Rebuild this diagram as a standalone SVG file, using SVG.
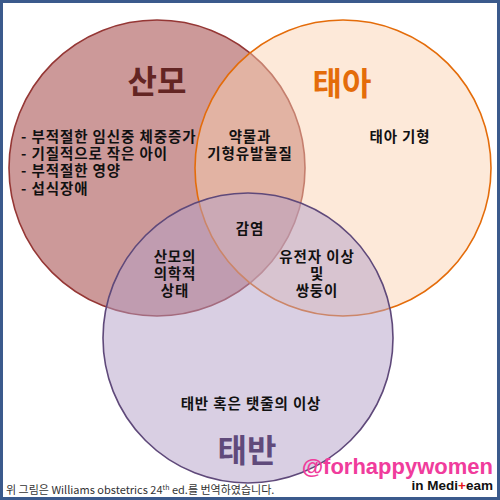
<svg xmlns="http://www.w3.org/2000/svg" width="500" height="500" viewBox="0 0 500 500">
<style>
text{font-family:"Noto Sans CJK KR","Liberation Sans",sans-serif;}
.lbl{font-size:14.5px;font-weight:bold;fill:#111;letter-spacing:0.9px;}
.mid{text-anchor:middle;}
.title{font-size:32px;font-weight:bold;text-anchor:middle;}
.ring{stroke-width:1.6;}
</style>
<rect x="0" y="0" width="500" height="500" fill="#ffffff"/>
<g id="circle-mother">
<circle class="ring" cx="157" cy="168" r="148" fill="#cc9999" stroke="#953735"/>
</g>
<g id="circle-fetus">
<circle class="ring" cx="343" cy="168" r="148" fill="#fbd0ae" fill-opacity="0.47" stroke="#e46c0a"/>
</g>
<g id="circle-placenta">
<circle class="ring" cx="248" cy="338" r="145" fill="#b39fc7" fill-opacity="0.5" stroke="#5f497a"/>
</g>
<g id="title-mother"><text class="title" x="157" y="93" fill="#632523">산모</text></g>
<g id="title-fetus"><text class="title" x="342" y="95" fill="#e46c0a">태아</text></g>
<g id="title-placenta"><text class="title" x="247" y="462" fill="#604a7b">태반</text></g>
<g id="mother-items">
<text class="lbl" x="21" y="142">- 부적절한 임신중 체중증가<tspan x="21" dy="17.2">- 기질적으로 작은 아이</tspan><tspan x="21" dy="17.2">- 부적절한 영양</tspan><tspan x="21" dy="17.2">- 섭식장애</tspan></text>
</g>
<g id="mother-fetus">
<text class="lbl mid" x="250" y="142">약물과<tspan x="250" dy="17">기형유발물질</tspan></text>
</g>
<g id="fetus-items"><text class="lbl mid" x="400" y="142">태아 기형</text></g>
<g id="all-three"><text class="lbl mid" x="250" y="234">감염</text></g>
<g id="mother-placenta">
<text class="lbl mid" x="175" y="262">산모의<tspan x="175" dy="17">의학적</tspan><tspan x="175" dy="17">상태</tspan></text>
</g>
<g id="fetus-placenta">
<text class="lbl mid" x="317" y="262">유전자 이상<tspan x="317" dy="17">및</tspan><tspan x="317" dy="17">쌍둥이</tspan></text>
</g>
<g id="placenta-items"><text class="lbl mid" x="251" y="409">태반 혹은 탯줄의 이상</text></g>
<g id="footer">
<text x="6" y="494" font-size="11" fill="#333">위 그림은 Williams obstetrics 24<tspan font-size="7" dy="-4">th</tspan><tspan dy="4"> ed.를 번역하였습니다.</tspan></text>
</g>
<g id="watermark">
<text x="493" y="474" text-anchor="end" style="font-family:'Liberation Sans',sans-serif" font-size="22" font-weight="bold" fill="#f03c9c">@forhappywomen</text>
<text x="493" y="490" text-anchor="end" style="font-family:'Liberation Sans',sans-serif" font-size="13.5" font-weight="bold" fill="#111">in Medi<tspan fill="#e8141c">+</tspan>eam</text>
</g>
<rect x="1.5" y="1.5" width="497" height="497" fill="none" stroke="#3b5a8c" stroke-width="3"/>
</svg>
